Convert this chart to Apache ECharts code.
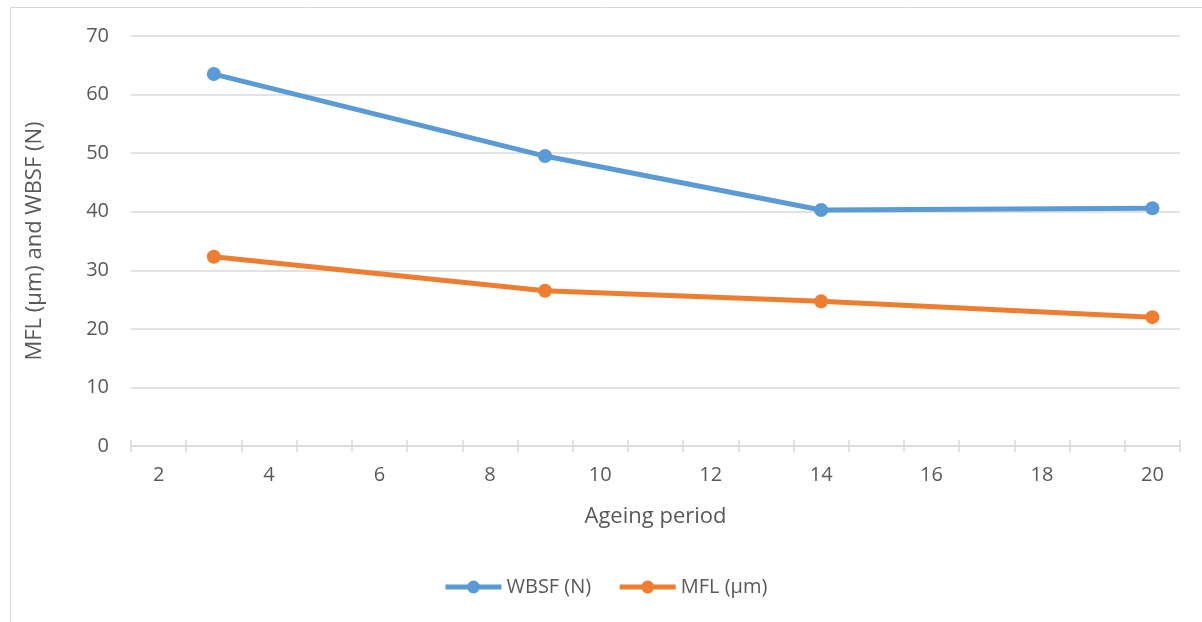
<!DOCTYPE html>
<html><head><meta charset="utf-8">
<script src="https://cdn.jsdelivr.net/npm/echarts@6/dist/echarts.min.js"></script>
<style>html,body{margin:0;padding:0;background:#fff}#c{width:1202px;height:622px}</style>
</head><body><div id="c"></div>
<script>
const categories = ["2","3","4","5","6","7","8","9","10","11","12","13","14","15","16","17","18","19","20"];
const wbsf = [null,63.5,null,null,null,null,null,49.5,null,null,null,null,40.3,null,null,null,null,null,40.6];
const mfl  = [null,32.3,null,null,null,null,null,26.5,null,null,null,null,24.7,null,null,null,null,null,22.0];
const yTicks = {min:0,max:70,interval:10};
const seriesNames = ["WBSF (N)","MFL (µm)"];
const font = '"Open Sans", sans-serif';
const txt = '#595959';
const chart = echarts.init(document.getElementById('c'));
chart.setOption({
  animation:false,
  textStyle:{fontFamily:font},
  graphic:[{type:'rect',shape:{x:10.5,y:7.5,width:1300,height:700},style:{fill:'none',stroke:'#D9D9D9',lineWidth:1}}],
  grid:{left:131,right:22,top:36,bottom:176},
  legend:{top:572,left:438,itemWidth:56,itemHeight:16,itemGap:26,
    lineStyle:{width:5},
    textStyle:{color:txt,fontSize:20,fontFamily:font},
    data:seriesNames},
  xAxis:[{type:'category',data:categories,boundaryGap:true,position:'bottom',
    name:'Ageing period',nameLocation:'middle',nameGap:60,
    nameTextStyle:{color:txt,fontSize:22,fontFamily:font},
    axisLine:{lineStyle:{color:'#D9D9D9',width:1.5}},
    axisTick:{show:true,interval:0,length:6,lineStyle:{color:'#D9D9D9',width:1.5}},
    axisLabel:{interval:1,color:txt,fontSize:20,margin:19,fontFamily:font},
    splitLine:{show:false}},
   {type:'category',data:categories,boundaryGap:true,position:'bottom',
    axisLine:{show:false},
    axisTick:{show:true,inside:true,interval:0,length:6,lineStyle:{color:'#D9D9D9',width:1.5}},
    axisLabel:{show:false},splitLine:{show:false}}],
  yAxis:{type:'value',min:yTicks.min,max:yTicks.max,interval:yTicks.interval,
    name:'MFL (μm) and WBSF (N)',nameLocation:'middle',nameGap:85,
    nameTextStyle:{color:txt,fontSize:22,fontFamily:font},
    axisLine:{show:false},axisTick:{show:false},
    axisLabel:{color:txt,fontSize:20,margin:22,fontFamily:font},
    splitLine:{lineStyle:{color:'#D9D9D9',width:1.5}}},
  series:[
    {name:seriesNames[0],type:'line',data:wbsf,connectNulls:true,symbol:'circle',symbolSize:14,
      lineStyle:{color:'#5B9BD5',width:5},itemStyle:{color:'#5B9BD5'}},
    {name:seriesNames[1],type:'line',data:mfl,connectNulls:true,symbol:'circle',symbolSize:14,
      lineStyle:{color:'#ED7D31',width:5},itemStyle:{color:'#ED7D31'}}
  ]
});
</script></body></html>
